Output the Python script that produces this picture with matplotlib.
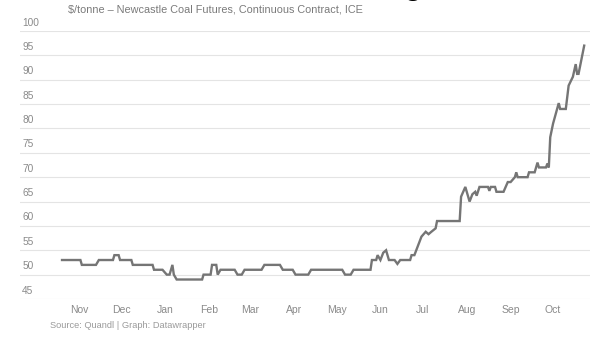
"""Newcastle coal futures line chart (Datawrapper style)."""
import matplotlib
matplotlib.use("Agg")
import matplotlib.pyplot as plt
import pandas as pd

# price breakpoints, $/tonne
DATES = [
    "2015-10-20", "2015-11-02", "2015-11-03", "2015-11-13", "2015-11-15",
    "2015-11-25", "2015-11-26", "2015-11-29", "2015-11-30", "2015-12-08",
    "2015-12-09", "2015-12-23", "2015-12-24", "2015-12-30", "2016-01-02",
    "2016-01-04", "2016-01-06", "2016-01-07", "2016-01-09", "2016-01-27",
    "2016-01-28", "2016-02-02", "2016-02-03", "2016-02-06", "2016-02-07",
    "2016-02-09", "2016-02-19", "2016-02-21", "2016-02-24", "2016-02-26",
    "2016-03-09", "2016-03-11", "2016-03-22", "2016-03-24", "2016-03-31",
    "2016-04-02", "2016-04-11", "2016-04-13", "2016-05-05", "2016-05-07",
    "2016-05-11", "2016-05-13", "2016-05-25", "2016-05-26", "2016-05-29",
    "2016-05-30", "2016-06-01", "2016-06-03", "2016-06-05", "2016-06-07",
    "2016-06-11", "2016-06-13", "2016-06-15", "2016-06-22", "2016-06-23",
    "2016-06-25", "2016-06-30", "2016-07-03", "2016-07-05", "2016-07-07",
    "2016-07-10", "2016-07-11", "2016-07-27", "2016-07-28", "2016-07-31",
    "2016-08-03", "2016-08-05", "2016-08-07", "2016-08-08", "2016-08-10",
    "2016-08-16", "2016-08-17", "2016-08-18", "2016-08-21", "2016-08-22",
    "2016-08-27", "2016-08-30", "2016-09-01", "2016-09-04", "2016-09-05",
    "2016-09-06", "2016-09-13", "2016-09-14", "2016-09-18", "2016-09-20",
    "2016-09-21", "2016-09-26", "2016-09-27", "2016-09-28", "2016-09-29",
    "2016-10-01", "2016-10-05", "2016-10-06", "2016-10-10", "2016-10-12",
    "2016-10-15", "2016-10-17", "2016-10-18", "2016-10-19", "2016-10-23",
]
PRICES = [
    53, 53, 52, 52, 53,
    53, 54, 54, 53, 53,
    52, 52, 51, 51, 50,
    50, 52, 50, 49, 49,
    50, 50, 52, 52, 50,
    51, 51, 50, 50, 51,
    51, 52, 52, 51, 51,
    50, 50, 51, 51, 50,
    50, 51, 51, 53, 53,
    54, 53, 54.5, 55, 53,
    53, 52.2, 53, 53, 54,
    54, 57.8, 58.8, 58.3, 58.8,
    59.5, 61, 61, 66, 68,
    65, 66.5, 67, 66.2, 68,
    68, 67.2, 68, 68, 67,
    67, 69, 69, 70, 71,
    70, 70, 71, 71, 73,
    72, 72, 72.8, 72, 78.2,
    81, 85.2, 84, 84, 88.8,
    90.6, 93.2, 91.2, 91.2, 97,
]

Y_TICKS = [45, 50, 55, 60, 65, 70, 75, 80, 85, 90, 95, 100]
MONTH_STARTS = [
    "2015-11-01", "2015-12-01", "2016-01-01", "2016-02-01", "2016-03-01",
    "2016-04-01", "2016-05-01", "2016-06-01", "2016-07-01", "2016-08-01",
    "2016-09-01", "2016-10-01",
]
MONTH_LABELS = ["Nov", "Dec", "Jan", "Feb", "Mar", "Apr", "May", "Jun",
                "Jul", "Aug", "Sep", "Oct"]

SUBTITLE = "$/tonne \u2013 Newcastle Coal Futures, Continuous Contract, ICE"
SOURCE = "Source: Quandl | Graph: Datawrapper"

plt.rcParams["font.family"] = ["Liberation Sans", "DejaVu Sans"]

W, H = 600, 340
fig = plt.figure(figsize=(W / 100, H / 100), dpi=100)
ax = fig.add_axes([20 / W, 41 / H, 570 / W, 268 / H])

x = pd.to_datetime(DATES)
ax.plot(x, PRICES, color="#757575", lw=1.7, solid_joinstyle="miter", zorder=3)

origin = pd.Timestamp("2015-11-01")
ax.set_xlim(origin - pd.Timedelta(days=41.7), origin + pd.Timedelta(days=361.1))
ax.set_ylim(45, 100)

# horizontal grid with labels sitting on top of each line
for y in Y_TICKS:
    ax.axhline(y, color="#e4e4e4", lw=0.8, zorder=0)
    ax.annotate(str(y), xy=(0, y), xycoords=("axes fraction", "data"),
                xytext=(1.5, 2.5), textcoords="offset points",
                ha="left", va="bottom", fontsize=7.3, color="#8a8a8a")

ax.set_yticks([])
ax.set_xticks(pd.to_datetime(MONTH_STARTS))
ax.set_xticklabels(MONTH_LABELS)
ax.tick_params(axis="x", length=0, pad=4, labelsize=7.5, labelcolor="#8a8a8a")
for s in ax.spines.values():
    s.set_visible(False)

fig.text(68 / W, 1 - 10 / H, SUBTITLE, ha="left", va="center",
         fontsize=7.8, color="#7a7a7a")
fig.text(50 / W, 1 - 326 / H, SOURCE, ha="left", va="center",
         fontsize=6.7, color="#9a9a9a")
# descender of the cropped headline above the chart
fig.text(413 / W, 1 + 6 / H, "g", ha="center", va="baseline",
         fontsize=22, fontweight="bold", color="black")

fig.savefig("out.png", dpi=100)
